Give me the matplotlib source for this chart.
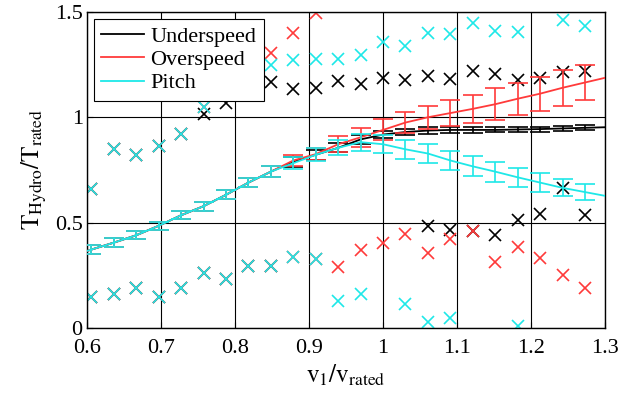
import numpy as np
import matplotlib
matplotlib.use("Agg")
import matplotlib.pyplot as plt

# wind speed ratio v1/v_rated (23 test points)
x = np.arange(20, 43) / 33.0

# mean torque ratio and std for each control mode
pitch_mean = [0.372, 0.405, 0.44, 0.485, 0.535, 0.578, 0.632, 0.69, 0.742, 0.782, 0.822, 0.855,
              0.882, 0.872, 0.848, 0.828, 0.795, 0.767, 0.742, 0.715, 0.69, 0.665, 0.645]
pitch_std = [0.02, 0.02, 0.02, 0.02, 0.02, 0.022, 0.022, 0.022, 0.025, 0.028, 0.03, 0.035,
             0.04, 0.042, 0.045, 0.045, 0.047, 0.048, 0.047, 0.045, 0.045, 0.04, 0.04]

under_mean = [0.372, 0.405, 0.44, 0.485, 0.535, 0.578, 0.632, 0.69, 0.742, 0.788, 0.822, 0.855,
              0.895, 0.918, 0.93, 0.937, 0.94, 0.94, 0.94, 0.942, 0.944, 0.947, 0.95]
under_std = [0.02, 0.02, 0.02, 0.02, 0.02, 0.022, 0.022, 0.022, 0.025, 0.025, 0.025, 0.022,
             0.02, 0.018, 0.016, 0.015, 0.014, 0.013, 0.012, 0.012, 0.012, 0.012, 0.012]

over_mean = [0.372, 0.405, 0.44, 0.485, 0.535, 0.578, 0.632, 0.69, 0.742, 0.795, 0.825, 0.872,
             0.905, 0.94, 0.975, 1.0, 1.02, 1.04, 1.062, 1.088, 1.112, 1.14, 1.165]
over_std = [0.02, 0.02, 0.02, 0.02, 0.02, 0.022, 0.022, 0.022, 0.025, 0.025, 0.03, 0.038,
            0.045, 0.05, 0.052, 0.055, 0.06, 0.065, 0.075, 0.075, 0.08, 0.085, 0.085]

nan = np.nan
# max / min values (crosses)
pitch_max = [0.661, 0.851, 0.819, 0.863, 0.922, 1.05, 1.12, 1.215, 1.25, 1.27, 1.278, 1.278,
             1.294, 1.357, 1.336, 1.401, 1.397, 1.449, 1.41, 1.405, nan, 1.46, 1.433]
pitch_min = [0.147, 0.16, 0.19, 0.147, 0.19, 0.261, 0.23, 0.294, 0.294, 0.337, 0.327, 0.128,
             0.163, nan, 0.116, 0.029, 0.047, nan, nan, 0.009, nan, nan, nan]

under_max = [0.661, 0.851, 0.819, 0.863, 0.922, 1.017, 1.067, 1.136, 1.167, 1.136, 1.14, 1.17,
             1.156, 1.186, 1.178, 1.194, 1.18, 1.219, 1.205, 1.178, 1.186, 1.214, 1.218]
under_min = [0.147, 0.16, 0.19, 0.147, 0.19, 0.261, 0.23, 0.294, 0.294, nan, nan, nan,
             nan, nan, nan, 0.482, 0.467, 0.459, 0.443, 0.511, 0.543, 0.666, 0.538]

over_max = [0.661, 0.851, 0.819, 0.863, 0.922, 1.05, 1.16, 1.31, 1.306, 1.401, 1.496, nan,
            nan, nan, nan, nan, nan, nan, nan, nan, nan, nan, nan]
over_min = [0.147, 0.16, 0.19, 0.147, 0.19, 0.261, 0.23, 0.294, 0.294, 0.337, 0.327, 0.287,
            0.369, 0.405, 0.448, 0.356, 0.424, 0.459, 0.313, 0.384, 0.332, 0.25, 0.19]

labels = ["Underspeed", "Overspeed", "Pitch"]
colors = ["black", "#ff3a3a", "#1ee8e8"]

plt.rcParams["font.family"] = ["Liberation Serif", "DejaVu Serif"]
plt.rcParams["mathtext.fontset"] = "stix"


def extend(xs, ys, lo=0.6, hi=1.3):
    # carry the mean line out to the axis edges (linear extrapolation)
    xs = np.asarray(xs)
    ys = np.asarray(ys)
    y_lo = ys[0] + (ys[1] - ys[0]) / (xs[1] - xs[0]) * (lo - xs[0])
    y_hi = ys[-1] + (ys[-1] - ys[-2]) / (xs[-1] - xs[-2]) * (hi - xs[-1])
    return np.r_[lo, xs, hi], np.r_[y_lo, ys, y_hi]


fig = plt.figure(figsize=(6.39, 3.98), dpi=100)
ax = fig.add_axes([0.136, 0.176, 0.811, 0.794])

series = [
    (under_mean, under_std, under_max, under_min),
    (over_mean, over_std, over_max, over_min),
    (pitch_mean, pitch_std, pitch_max, pitch_min),
]

for (m, s, hi, lo), c, lab in zip(series, colors, labels):
    ax.plot(x, hi, "x", color=c, ms=8.5, mew=1.2, zorder=2)
    ax.plot(x, lo, "x", color=c, ms=8.5, mew=1.2, zorder=2)

for (m, s, hi, lo), c, lab in zip(series, colors, labels):
    xe, ye = extend(x, m)
    ax.plot(xe, ye, color=c, lw=1.3, label=lab, zorder=3)
    ax.errorbar(x, m, yerr=s, fmt="none", ecolor=c, elinewidth=1.2,
                capsize=7, capthick=1.2, zorder=3)

ax.set_xlim(0.6, 1.3)
ax.set_ylim(0, 1.5)
ax.set_xticks(np.arange(0.6, 1.31, 0.1))
ax.set_xticklabels(["0.6", "0.7", "0.8", "0.9", "1", "1.1", "1.2", "1.3"])
ax.set_yticks([0, 0.5, 1, 1.5])
ax.set_yticklabels(["0", "0.5", "1", "1.5"])
ax.grid(True, color="black", lw=0.8)
ax.set_axisbelow(True)
ax.tick_params(direction="in", labelsize=16, length=4)
ax.tick_params(axis="x", pad=8)
ax.tick_params(axis="y", pad=3)
for sp in ax.spines.values():
    sp.set_linewidth(1.0)

ax.set_xlabel(r"$\mathrm{v_1/v_{rated}}$", fontsize=18, labelpad=3)
ax.set_ylabel(r"$\mathrm{T_{Hydro}/T_{rated}}$", fontsize=18, labelpad=4)

leg = ax.legend(loc="upper left", fontsize=16, handlelength=1.9, labelspacing=0.12,
                borderpad=0.35, handletextpad=0.3, borderaxespad=0.3, fancybox=False,
                framealpha=1)
leg.get_frame().set_edgecolor("black")
leg.get_frame().set_linewidth(0.8)

fig.savefig("out.png", dpi=100)
